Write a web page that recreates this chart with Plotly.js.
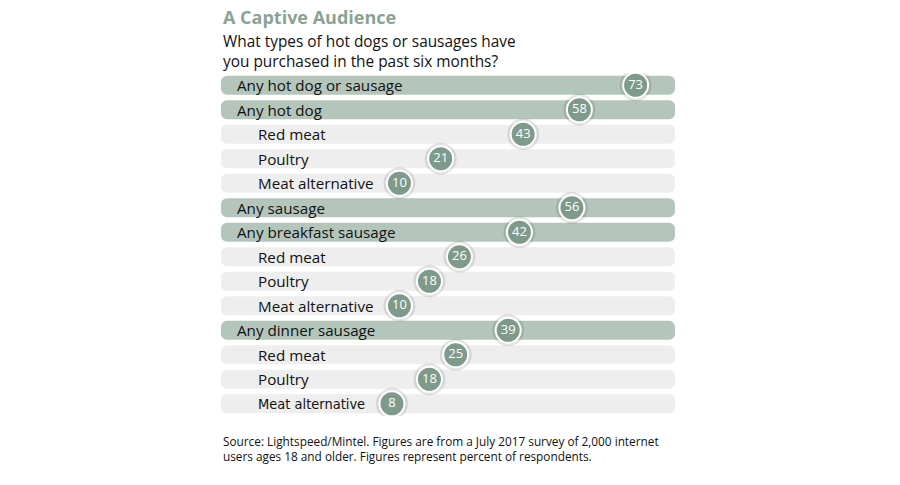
<!DOCTYPE html>
<html>
<head>
<meta charset="utf-8">
<script src="https://cdn.plot.ly/plotly-3.0.1.min.js"></script>
<style>
  html, body { margin: 0; padding: 0; background: #ffffff; }
  #chart { width: 900px; height: 485px; }
</style>
</head>
<body>
<div id="chart"></div>
<script>
// ---- data ----
const categories = [
  "Any hot dog or sausage",
  "Any hot dog",
  "Red meat",
  "Poultry",
  "Meat alternative",
  "Any sausage",
  "Any breakfast sausage",
  "Red meat",
  "Poultry",
  "Meat alternative",
  "Any dinner sausage",
  "Red meat",
  "Poultry",
  "Meat alternative"
];
const levels = [0, 0, 1, 1, 1, 0, 0, 1, 1, 1, 0, 1, 1, 1];
const values = [73, 58, 43, 21, 10, 56, 42, 26, 18, 10, 39, 25, 18, 8];

const titleText = "A Captive Audience";
const subtitleText = "What types of hot dogs or sausages have<br>you purchased in the past six months?";
const sourceText = "Source: Lightspeed/Mintel. Figures are from a July 2017 survey of 2,000 internet<br>users ages 18 and older. Figures represent percent of respondents.";

// ---- chart ----
const xMin = -37.6, xMax = 83.5;
const rows = categories.map((_, i) => i);

const DARK = "#b4c6bc", LIGHT = "#eeeeee", DOT = "#7e9a8b";

const bgBars = {
  type: "bar",
  orientation: "h",
  y: rows,
  x: rows.map(() => xMax - xMin),
  base: xMin,
  width: 0.78,
  marker: {
    color: levels.map(l => l === 0 ? DARK : LIGHT),
    cornerradius: 6,
    line: { width: 0 }
  },
  hoverinfo: "skip",
  showlegend: false
};

const shadow = {
  type: "scatter",
  mode: "markers",
  x: values,
  y: rows,
  marker: { size: 32, color: "rgba(0,0,0,0.10)", line: { width: 0 } },
  hoverinfo: "skip",
  showlegend: false
};

const dots = {
  type: "scatter",
  mode: "markers+text",
  x: values,
  y: rows,
  text: values.map(String),
  textposition: "middle center",
  textfont: { family: "Open Sans, sans-serif", size: 13, color: "#ffffff" },
  marker: { size: 25, color: DOT, line: { color: "#ffffff", width: 2 } },
  cliponaxis: false,
  hoverinfo: "skip",
  showlegend: false
};

const lastIdx = categories.length - 1;
const labelAnns = categories.map((c, i) => ({
  xref: "paper", yref: "y",
  x: levels[i] === 0 ? 0.031 : 0.077,
  y: i,
  xanchor: "left", yanchor: "middle",
  text: c,
  showarrow: false,
  font: {
    family: i === lastIdx ? "DejaVu Sans Condensed, Liberation Sans Narrow, sans-serif" : "Open Sans, sans-serif",
    size: i === lastIdx ? 14.5 : 15.2,
    color: "#111111"
  }
}));

const layout = {
  width: 900, height: 485,
  margin: { l: 221, r: 225, t: 72.7, b: 68.7, pad: 0 },
  paper_bgcolor: "#ffffff",
  plot_bgcolor: "#ffffff",
  barmode: "overlay",
  xaxis: { range: [xMin, xMax], visible: false, fixedrange: true },
  yaxis: { range: [13.5, -0.5], visible: false, fixedrange: true },
  annotations: [
    {
      xref: "paper", yref: "paper", x: 0, y: 1, yshift: 70,
      xanchor: "left", yanchor: "top",
      text: "<b>" + titleText + "</b>", showarrow: false,
      font: { family: "Open Sans, sans-serif", size: 18, color: "#8aa394" }
    },
    {
      xref: "paper", yref: "paper", x: 0, y: 1, yshift: 44,
      xanchor: "left", yanchor: "top", align: "left",
      text: subtitleText, showarrow: false,
      font: { family: "Open Sans, sans-serif", size: 15.4, color: "#111111" }
    },
    {
      xref: "paper", yref: "paper", x: 0, y: 0, yshift: -15,
      xanchor: "left", yanchor: "top", align: "left",
      text: sourceText, showarrow: false,
      font: { family: "Open Sans, sans-serif", size: 11.8, color: "#111111" }
    }
  ].concat(labelAnns)
};

Plotly.newPlot("chart", [bgBars, shadow, dots], layout, { staticPlot: true, displayModeBar: false });
</script>
</body>
</html>
